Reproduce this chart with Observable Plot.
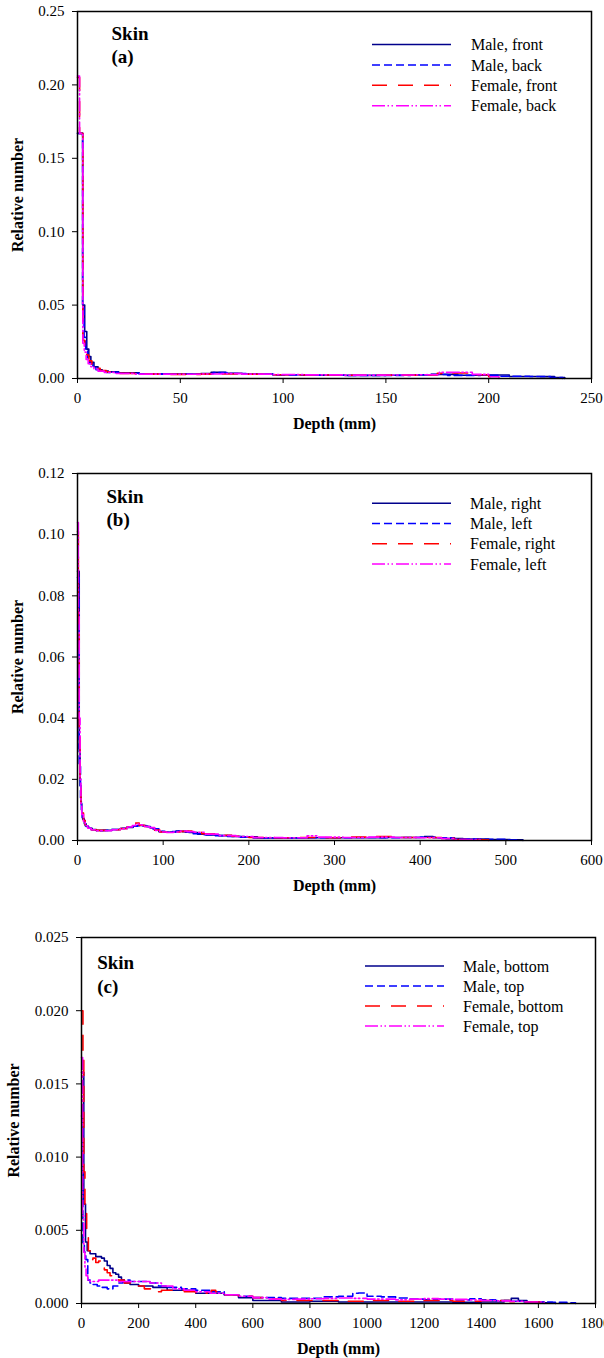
<!DOCTYPE html>
<html><head><meta charset="utf-8">
<script src="https://cdn.jsdelivr.net/npm/d3@7"></script>
<script src="https://cdn.jsdelivr.net/npm/@observablehq/plot@0.6"></script>
<style>
html,body{margin:0;padding:0;background:#fff;}
body{width:604px;overflow:hidden;}
.panel{position:relative;width:604px;}
</style></head><body>
<div id="pa" class="panel"></div>
<div id="pb" class="panel"></div>
<div id="pc" class="panel"></div>
<script>
// ---------- Panel (a): front / back ----------
const aLabels = ["Male, front", "Male, back", "Female, front", "Female, back"];
const aXTicks = [0, 50, 100, 150, 200, 250];
const aYTicks = [0, 0.05, 0.10, 0.15, 0.20, 0.25];
const aDepthMaleFront = [0, 2.5, 3.5, 4.5, 5.5, 6.5, 8, 10, 12, 15, 20, 30, 45, 60, 65, 72, 80, 95, 110, 130, 150, 165, 172, 185, 198, 210, 225, 232, 237];
const aMaleFront = [0.167, 0.050, 0.032, 0.020, 0.015, 0.011, 0.008, 0.006, 0.005, 0.0045, 0.0038, 0.0032, 0.003, 0.0033, 0.0042, 0.0036, 0.003, 0.0026, 0.0023, 0.0021, 0.0022, 0.0025, 0.0028, 0.0022, 0.0024, 0.0014, 0.0013, 0.0006, 0];
const aDepthMaleBack = [0, 2.5, 3.2, 4, 5, 6, 7.5, 9, 11, 14, 20, 30, 45, 60, 66, 74, 82, 95, 110, 130, 150, 162, 170, 180, 196, 205, 220, 230, 236];
const aMaleBack = [0.167, 0.048, 0.028, 0.019, 0.014, 0.010, 0.0075, 0.006, 0.005, 0.0042, 0.0036, 0.003, 0.0029, 0.0032, 0.004, 0.0034, 0.0029, 0.0025, 0.0022, 0.002, 0.0021, 0.0026, 0.0027, 0.0021, 0.0022, 0.0015, 0.0014, 0.0007, 0];
const aDepthFemaleFront = [0, 1, 2.6, 3.5, 4.5, 5.5, 7, 9, 11, 14, 20, 30, 45, 60, 70, 80, 95, 110, 130, 150, 165, 175, 182, 190, 200, 205];
const aFemaleFront = [0.205, 0.167, 0.026, 0.021, 0.016, 0.012, 0.009, 0.007, 0.0055, 0.0045, 0.0035, 0.003, 0.0028, 0.003, 0.0031, 0.0029, 0.0026, 0.0024, 0.0022, 0.0023, 0.0025, 0.0035, 0.0037, 0.0026, 0.0012, 0];
const aDepthFemaleBack = [0, 1, 2.6, 3.3, 4.2, 5.2, 6.5, 8, 10, 13, 18, 28, 45, 60, 70, 80, 95, 110, 130, 150, 165, 176, 183, 192, 200, 205];
const aFemaleBack = [0.206, 0.167, 0.024, 0.018, 0.013, 0.010, 0.008, 0.0065, 0.005, 0.0042, 0.0034, 0.003, 0.0029, 0.0031, 0.0033, 0.003, 0.0027, 0.0025, 0.0023, 0.0024, 0.0026, 0.0042, 0.0043, 0.0028, 0.0012, 0];

// ---------- Panel (b): right / left ----------
const bLabels = ["Male, right", "Male, left", "Female, right", "Female, left"];
const bXTicks = [0, 100, 200, 300, 400, 500, 600];
const bYTicks = [0, 0.02, 0.04, 0.06, 0.08, 0.10, 0.12];
const bDepthMaleRight = [0, 2, 3, 4, 5, 6, 8, 10, 13, 17, 22, 30, 40, 50, 58, 65, 70, 75, 80, 85, 90, 95, 100, 108, 115, 122, 130, 140, 150, 165, 180, 195, 210, 240, 270, 300, 330, 360, 390, 405, 415, 430, 450, 480, 505, 520];
const bMaleRight = [0.088, 0.03, 0.018, 0.012, 0.009, 0.007, 0.0055, 0.0046, 0.004, 0.0036, 0.0033, 0.0033, 0.0036, 0.0039, 0.0043, 0.0047, 0.0049, 0.0049, 0.0046, 0.0041, 0.0034, 0.0029, 0.0027, 0.0028, 0.0031, 0.0029, 0.0026, 0.0021, 0.0018, 0.0016, 0.0013, 0.0012, 0.0008, 0.0008, 0.0009, 0.0009, 0.0009, 0.001, 0.001, 0.0013, 0.0009, 0.0006, 0.0005, 0.0003, 0.0002, 0];
const bDepthMaleLeft = [0, 2, 3.5, 4.5, 5.5, 7, 9, 12, 16, 22, 30, 40, 50, 58, 65, 70, 76, 82, 88, 95, 102, 110, 118, 126, 135, 145, 160, 175, 190, 205, 230, 260, 290, 320, 350, 380, 400, 420, 440, 470, 500, 515];
const bMaleLeft = [0.086, 0.025, 0.014, 0.01, 0.0075, 0.006, 0.0048, 0.004, 0.0035, 0.0032, 0.0033, 0.0036, 0.004, 0.0044, 0.0047, 0.0048, 0.0047, 0.0045, 0.0038, 0.003, 0.0027, 0.0029, 0.0031, 0.0027, 0.0022, 0.0019, 0.0016, 0.0013, 0.0011, 0.0008, 0.0008, 0.0009, 0.0009, 0.001, 0.0009, 0.001, 0.0011, 0.0009, 0.0005, 0.0004, 0.0002, 0];
const bDepthFemaleRight = [0, 1, 2, 3, 4, 5, 7, 9, 12, 16, 22, 30, 40, 50, 58, 64, 68, 72, 78, 84, 90, 96, 104, 112, 120, 128, 134, 145, 160, 180, 200, 230, 260, 290, 320, 345, 370, 400, 425, 440, 470, 480];
const bFemaleRight = [0.101, 0.07, 0.035, 0.02, 0.012, 0.009, 0.0065, 0.005, 0.004, 0.0035, 0.0033, 0.0033, 0.0035, 0.0039, 0.0045, 0.005, 0.0057, 0.005, 0.0046, 0.0043, 0.0034, 0.0028, 0.0027, 0.0028, 0.003, 0.0031, 0.0029, 0.0022, 0.0017, 0.0014, 0.001, 0.0009, 0.001, 0.0009, 0.0011, 0.0013, 0.001, 0.001, 0.0007, 0.0003, 0.0002, 0];
const bDepthFemaleLeft = [0, 1, 2, 3, 4, 5, 7, 9, 12, 16, 22, 30, 40, 50, 58, 64, 68, 72, 78, 84, 90, 96, 104, 112, 120, 128, 136, 148, 165, 185, 205, 240, 268, 280, 310, 340, 370, 400, 425, 440, 470];
const bFemaleLeft = [0.104, 0.075, 0.04, 0.02, 0.012, 0.0085, 0.006, 0.0048, 0.004, 0.0035, 0.0032, 0.0032, 0.0035, 0.0038, 0.0044, 0.0049, 0.0054, 0.0051, 0.0046, 0.0042, 0.0033, 0.0028, 0.0026, 0.0028, 0.0031, 0.0029, 0.0027, 0.0021, 0.0016, 0.0013, 0.001, 0.0009, 0.0015, 0.0011, 0.001, 0.0011, 0.001, 0.0009, 0.0006, 0.0003, 0];

// ---------- Panel (c): bottom / top ----------
const cLabels = ["Male, bottom", "Male, top", "Female, bottom", "Female, top"];
const cXTicks = [0, 200, 400, 600, 800, 1000, 1200, 1400, 1600, 1800];
const cYTicks = [0, 0.005, 0.010, 0.015, 0.020, 0.025];
const cDepthMaleBottom = [0, 8, 14, 20, 30, 50, 70, 80, 90, 100, 110, 120, 130, 140, 150, 170, 200, 250, 300, 350, 400, 450, 500, 550, 600, 650, 700, 800, 900, 1000, 1100, 1200, 1300, 1400, 1480, 1505, 1530, 1560, 1620, 1660];
const cMaleBottom = [0.0158, 0.0068, 0.0042, 0.0036, 0.0034, 0.0032, 0.0031, 0.0029, 0.0026, 0.0024, 0.0021, 0.002, 0.0018, 0.0016, 0.0014, 0.0013, 0.0012, 0.0011, 0.0009, 0.0009, 0.0007, 0.0007, 0.0006, 0.0004, 0.0002, 0.0002, 0.0001, 0.00015, 0.0001, 0.0001, 0.0001, 0.0001, 0.00008, 0.0001, 0.0002, 0.00035, 0.0002, 0.0001, 0.00005, 0];
const cDepthMaleTop = [0, 5, 10, 15, 22, 30, 40, 55, 70, 90, 110, 130, 145, 170, 200, 240, 270, 300, 350, 400, 450, 500, 550, 600, 650, 700, 750, 800, 850, 900, 950, 970, 1000, 1050, 1100, 1150, 1200, 1250, 1300, 1360, 1400, 1450, 1500, 1550, 1600, 1650, 1700, 1730];
const cMaleTop = [0.0128, 0.0041, 0.0035, 0.003, 0.0016, 0.0014, 0.0013, 0.0012, 0.0011, 0.001, 0.0012, 0.0014, 0.0016, 0.0015, 0.0015, 0.0014, 0.0012, 0.0011, 0.001, 0.0009, 0.0008, 0.0006, 0.0005, 0.0004, 0.0004, 0.00035, 0.00035, 0.00035, 0.00045, 0.0005, 0.0007, 0.00072, 0.0005, 0.00045, 0.00038, 0.0003, 0.00025, 0.0003, 0.00025, 0.00032, 0.00025, 0.0002, 0.00015, 0.0001, 0.0001, 0.00008, 0.00005, 0];
const cDepthFemaleBottom = [0, 5, 8, 12, 18, 24, 30, 40, 50, 60, 70, 80, 90, 100, 110, 130, 150, 180, 220, 260, 280, 320, 360, 400, 440, 455, 470, 500, 550, 600, 650, 700, 800, 900, 1000, 1100, 1200, 1300, 1400, 1450, 1500, 1550, 1630];
const cFemaleBottom = [0.020, 0.017, 0.009, 0.0065, 0.0045, 0.0036, 0.003, 0.0031, 0.0028, 0.0029, 0.0026, 0.0023, 0.0021, 0.0019, 0.0017, 0.0016, 0.0014, 0.0012, 0.001, 0.0008, 0.0009, 0.0009, 0.0008, 0.0007, 0.0008, 0.0009, 0.0008, 0.0006, 0.0005, 0.0004, 0.0003, 0.0002, 0.0002, 0.00015, 0.0002, 0.00015, 0.0002, 0.00015, 0.0002, 0.0002, 0.00012, 0.0001, 0];
const cDepthFemaleTop = [0, 4, 8, 12, 16, 22, 30, 45, 60, 80, 100, 130, 160, 200, 240, 280, 320, 360, 400, 450, 500, 550, 600, 650, 700, 750, 800, 850, 900, 950, 1000, 1100, 1150, 1200, 1250, 1300, 1350, 1400, 1450, 1500, 1550, 1620];
const cFemaleTop = [0.0168, 0.006, 0.0035, 0.0025, 0.0019, 0.0016, 0.0015, 0.0015, 0.0016, 0.0016, 0.0016, 0.0015, 0.0015, 0.0015, 0.0014, 0.0012, 0.001, 0.0009, 0.0008, 0.0007, 0.0006, 0.0005, 0.0004, 0.0003, 0.00028, 0.0003, 0.00032, 0.00035, 0.00038, 0.00035, 0.0003, 0.00025, 0.0003, 0.00033, 0.0003, 0.00028, 0.00025, 0.0002, 0.00018, 0.00015, 0.0001, 0];

// ---------- styles ----------
const seriesStyles = [
  {color: "#00008b", dash: null},
  {color: "#0000ff", dash: "8,4"},
  {color: "#ff0000", dash: "15,11"},
  {color: "#ff00ff", dash: "13,2.5,1.5,2.5,1.5,3"}
];
const FONT = "'Liberation Serif', 'Times New Roman', Times, serif";

function rowsOf(depths, values, name) {
  return depths.map((d, i) => ({depth: d, value: values[i], series: name}));
}

function makePanel(cfg) {
  const series = cfg.series.map((s, i) => ({name: cfg.labels[i], rows: rowsOf(s[0], s[1], cfg.labels[i]), ...seriesStyles[i]}));
  const svg = Plot.plot({
    width: 604,
    height: cfg.height,
    marginTop: cfg.mt, marginBottom: cfg.mb, marginLeft: cfg.ml, marginRight: cfg.mr,
    style: {fontFamily: FONT, fontSize: "15px", color: "black", background: "white", overflow: "visible"},
    x: {domain: cfg.xDomain, ticks: cfg.xTicks, tickFormat: d => String(d), label: null, tickSize: 5, tickPadding: 9},
    y: {domain: cfg.yDomain, ticks: cfg.yTicks, tickFormat: d3.format(cfg.yFmt), label: null, tickSize: 5, tickPadding: 8},
    marks: [
      ...series.map(s => Plot.line(s.rows, {
        x: "depth", y: "value", stroke: s.color, strokeWidth: 1.6,
        strokeDasharray: s.dash || undefined, curve: "step-after"
      })),
      Plot.frame({stroke: "black", strokeWidth: 1.5}),
      Plot.text([cfg.tag], {text: d => d, frameAnchor: "top-left", textAnchor: "start", lineAnchor: "top",
        dx: cfg.tagDx, dy: cfg.tagDy, fontSize: 19, fontWeight: "bold", fontFamily: FONT, lineHeight: 1.23, fill: "black"}),
      Plot.text(["Depth (mm)"], {text: d => d, frameAnchor: "bottom", textAnchor: "middle", lineAnchor: "middle", dy: 45,
        fontSize: 16, fontWeight: "bold", fontFamily: FONT, fill: "black"}),
      Plot.text(["Relative number"], {text: d => d, frameAnchor: "left", textAnchor: "middle", lineAnchor: "middle",
        dx: cfg.ylabDx, rotate: -90, fontSize: 16, fontWeight: "bold", fontFamily: FONT, fill: "black"})
    ]
  });
  // legend
  const g = d3.select(svg).append("g").attr("font-family", FONT).attr("font-size", 16).attr("text-anchor", "start");
  series.forEach((s, i) => {
    const y = cfg.legY + i * cfg.legStep;
    g.append("line").attr("x1", cfg.legX0).attr("x2", cfg.legX1).attr("y1", y).attr("y2", y)
      .attr("stroke", s.color).attr("stroke-width", 1.5).attr("stroke-dasharray", s.dash);
    g.append("text").attr("x", cfg.legTx).attr("y", y + 5.6).attr("fill", "black")
      .attr("text-anchor", "start").text(s.name);
  });
  document.getElementById(cfg.id).appendChild(svg);
}

makePanel({
  id: "pa", height: 440, mt: 11, mb: 62, ml: 77, mr: 13,
  xDomain: [0, 250], xTicks: aXTicks, yDomain: [0, 0.25], yTicks: aYTicks, yFmt: ".2f",
  labels: aLabels,
  series: [[aDepthMaleFront, aMaleFront], [aDepthMaleBack, aMaleBack], [aDepthFemaleFront, aFemaleFront], [aDepthFemaleBack, aFemaleBack]],
  tag: "Skin\n(a)", tagDx: 34, tagDy: 11.5, ylabDx: -59.5,
  legX0: 372, legX1: 451, legTx: 471, legY: 44.5, legStep: 20.4
});
makePanel({
  id: "pb", height: 460, mt: 33, mb: 60, ml: 77, mr: 13,
  xDomain: [0, 600], xTicks: bXTicks, yDomain: [0, 0.12], yTicks: bYTicks, yFmt: ".2f",
  labels: bLabels,
  series: [[bDepthMaleRight, bMaleRight], [bDepthMaleLeft, bMaleLeft], [bDepthFemaleRight, bFemaleRight], [bDepthFemaleLeft, bFemaleLeft]],
  tag: "Skin\n(b)", tagDx: 29, tagDy: 12.8, ylabDx: -59.5,
  legX0: 372, legX1: 451, legTx: 470, legY: 63.3, legStep: 20.2
});
makePanel({
  id: "pc", height: 458, mt: 37, mb: 55, ml: 81, mr: 9,
  xDomain: [0, 1800], xTicks: cXTicks, yDomain: [0, 0.025], yTicks: cYTicks, yFmt: ".3f",
  labels: cLabels,
  series: [[cDepthMaleBottom, cMaleBottom], [cDepthMaleTop, cMaleTop], [cDepthFemaleBottom, cFemaleBottom], [cDepthFemaleTop, cFemaleTop]],
  tag: "Skin\n(c)", tagDx: 15.7, tagDy: 15.4, ylabDx: -68,
  legX0: 365, legX1: 444, legTx: 463, legY: 66, legStep: 20
});
</script>
</body></html>
